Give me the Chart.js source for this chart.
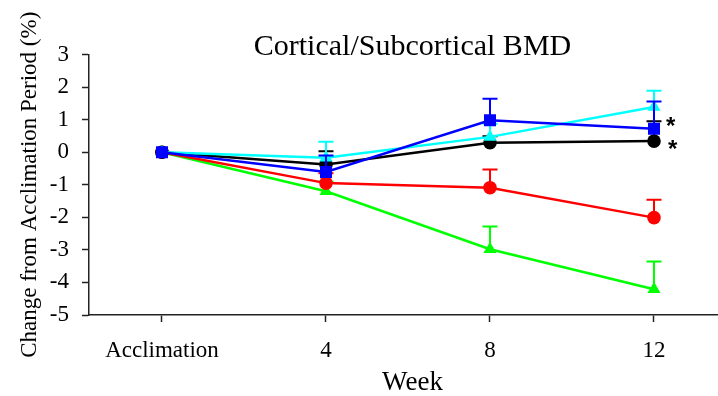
<!DOCTYPE html>
<html>
<head>
<meta charset="utf-8">
<script src="https://cdn.jsdelivr.net/npm/chart.js@4.4.0/dist/chart.umd.min.js"></script>
<style>
  html, body { margin: 0; background: #fff; overflow: hidden; }
  canvas { display: block; }
</style>
</head>
<body>
<!-- the plot area runs a bit past the right edge in the original, so the canvas is wider than the window -->
<canvas id="myChart" width="736" height="396"></canvas>
<script>
// x positions are just the index of the category
const weekLabels = ["Acclimation", "4", "8", "12"];
const weekIdx = [0, 1, 2, 3];

// series values (% change)
const blueVals = [0, -0.61, 0.98, 0.72];
const cyanVals = [0, -0.17, 0.47, 1.39];
const blackVals = [0, -0.38, 0.29, 0.34];
const redVals = [0, -0.95, -1.09, -2.01];
const greenVals = [0, -1.2, -2.98, -4.21];

// upper error bars (SEM)
const blueErr = [0, 0.51, 0.66, 0.84];
const cyanErr = [0, 0.49, 0.4, 0.5];
const blackErr = [0, 0.41, 0.2, 0.61];
const redErr = [0, 0.3, 0.56, 0.55];
const greenErr = [0, 0.3, 0.7, 0.85];

// which points get a star
const starSeries = ["blue", "black"];
const starIdx = [3, 3];

const yTicks = [-5, -4, -3, -2, -1, 0, 1, 2, 3];

const serif = "'Liberation Serif', 'Times New Roman', serif";

function makeSet(name, vals, err, color, style, radius) {
  return {
    label: name,
    data: weekIdx.map((x, i) => ({ x: x, y: vals[i] })),
    errUp: err,
    borderColor: color,
    backgroundColor: color,
    pointBackgroundColor: color,
    pointBorderColor: color,
    pointBorderWidth: 0,
    pointStyle: style,
    pointRadius: radius,
    pointHoverRadius: radius,
    borderWidth: 2.5,
    tension: 0
  };
}

// draws the error bars of one series right before that series
const errorBars = {
  id: "errorBars",
  beforeDatasetDraw(chart, args) {
    const ds = chart.data.datasets[args.index];
    if (!ds.errUp) return;
    const xs = chart.scales.x, ys = chart.scales.y;
    const ctx = chart.ctx;
    ctx.save();
    ctx.strokeStyle = ds.borderColor;
    ctx.lineWidth = 2;
    ds.data.forEach((p, i) => {
      const e = ds.errUp[i];
      if (!e) return;
      const px = xs.getPixelForValue(p.x);
      const y0 = ys.getPixelForValue(p.y);
      const y1 = ys.getPixelForValue(p.y + e);
      ctx.beginPath();
      ctx.moveTo(px, y0);
      ctx.lineTo(px, y1);
      ctx.moveTo(px - 7.5, y1);
      ctx.lineTo(px + 7.5, y1);
      ctx.stroke();
    });
    ctx.restore();
  }
};

// the significance stars next to week 12
const stars = {
  id: "stars",
  afterDatasetsDraw(chart) {
    const ctx = chart.ctx;
    ctx.save();
    ctx.fillStyle = "#000";
    ctx.font = "bold 24px 'Liberation Sans', Arial, sans-serif";
    ctx.textAlign = "left";
    ctx.textBaseline = "middle";
    starSeries.forEach((name, k) => {
      const ds = chart.data.datasets.find(d => d.label === name);
      const p = ds.data[starIdx[k]];
      const px = chart.scales.x.getPixelForValue(p.x);
      const py = chart.scales.y.getPixelForValue(p.y);
      ctx.fillText("*", px + 12 + k * 2, py + (k === 0 ? -1 : 9));
    });
    ctx.restore();
  }
};

const ctx = document.getElementById("myChart").getContext("2d");

const myChart = new Chart(ctx, {
  type: "line",
  data: {
    datasets: [
      makeSet("blue", blueVals, blueErr, "#0000ff", "rect", 8.5),
      makeSet("cyan", cyanVals, cyanErr, "#00ffff", "triangle", 7.5),
      makeSet("black", blackVals, blackErr, "#000000", "circle", 6.8),
      makeSet("red", redVals, redErr, "#ff0000", "circle", 6.8),
      makeSet("green", greenVals, greenErr, "#00ff00", "triangle", 7.5)
    ]
  },
  plugins: [errorBars, stars],
  options: {
    responsive: false,
    animation: false,
    layout: { autoPadding: false, padding: 0 },
    plugins: {
      legend: { display: false },
      tooltip: { enabled: false },
      title: {
        display: true,
        text: "Cortical/Subcortical BMD",
        fullSize: false,
        color: "#000",
        font: { family: serif, size: 30, weight: "normal" },
        padding: { top: 29, bottom: -10.5 }
      }
    },
    scales: {
      x: {
        type: "linear",
        min: -0.445,
        max: 3.5,
        afterBuildTicks: (scale) => {
          scale.ticks = weekIdx.map(v => ({ value: v }));
        },
        afterFit: (scale) => { scale.height = 81; },
        ticks: {
          callback: (v) => weekLabels[v],
          color: "#000",
          font: { family: serif, size: 23 },
          padding: 15,
          maxRotation: 0,
          autoSkip: false
        },
        grid: {
          drawOnChartArea: false,
          tickLength: 7,
          tickColor: "#222",
          tickWidth: 1.5
        },
        border: { display: true, color: "#222", width: 1.5 },
        title: {
          display: true,
          text: "Week",
          color: "#000",
          font: { family: serif, size: 27 },
          padding: { top: 0, bottom: -3 }
        }
      },
      y: {
        min: -5,
        max: 3,
        afterBuildTicks: (scale) => {
          scale.ticks = yTicks.map(v => ({ value: v }));
        },
        afterFit: (scale) => { scale.width = 89; },
        ticks: {
          color: "#000",
          font: { family: serif, size: 23 },
          padding: 13
        },
        grid: {
          drawOnChartArea: false,
          tickLength: 7,
          tickColor: "#222",
          tickWidth: 1.5
        },
        border: { display: true, color: "#222", width: 1.5 },
        title: {
          display: true,
          text: "Change from Acclimation Period (%)",
          color: "#000",
          font: { family: serif, size: 23 },
          padding: { top: 16, bottom: 0 }
        }
      }
    }
  }
});
</script>
</body>
</html>
